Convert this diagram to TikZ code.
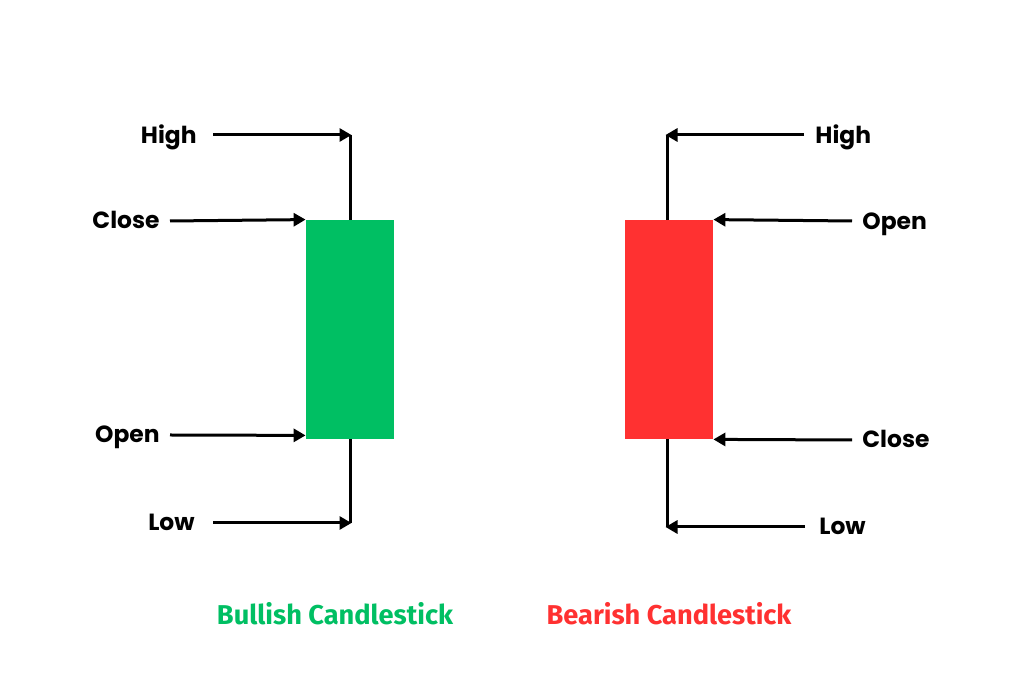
\documentclass[tikz,border=0pt]{standalone}
\usepackage{fontspec}
\setmainfont{Poppins}
\newfontfamily\captionfont{Fira Sans}
\usepackage{xcolor}
\usepackage{tikz}
\usetikzlibrary{arrows.meta}
\usetikzlibrary{positioning}
\definecolor{bullgreen}{HTML}{00BF63}
\definecolor{bearred}{HTML}{FF3131}

\begin{document}
\begin{tikzpicture}[
            x=0.5pt, y=-0.5pt,
            >={Triangle[length=6pt, width=6.5pt]},
            candle/.style={rectangle, minimum width=44pt, minimum height=109.5pt, inner sep=0pt},
            wick/.style={line width=1.5pt},
            pointer/.style={->, line width=1.5pt},
            price/.style={font=\bfseries\fontsize{11.7}{14}\selectfont, inner sep=0pt},
            caption/.style={font=\captionfont\bfseries\fontsize{13.6}{16}\selectfont, inner sep=0pt},
        ]

        % Page frame
        \useasboundingbox[fill=white] (0,0) rectangle (1024,683);

        % Bullish candle (left)
        \node[candle, fill=bullgreen] (bull) at (350, 329.5) {};
        \coordinate (bullHigh) at (350, 135);
        \coordinate (bullLow) at (350, 523);
        \draw[wick] (bullHigh) -- (bull.north);
        \draw[wick] (bull.south) -- (bullLow);

        % Bullish labels and pointers
        \node[price, anchor=base east] (bullHighLabel) at (197, 144) {High};
        \node[price, anchor=base east] (bullCloseLabel) at (160, 229) {Close};
        \node[price, anchor=base east] (bullOpenLabel) at (160, 443) {Open};
        \node[price, anchor=base east] (bullLowLabel) at (195, 531) {Low};

        \coordinate (bullHighTail) at (213, 135);
        \coordinate (bullCloseTail) at (170, 221);
        \coordinate (bullOpenTail) at (170, 435);
        \coordinate (bullLowTail) at (213, 523);

        \draw[pointer] (bullHighTail) -- ([xshift=0.75pt]bullHigh);
        \draw[pointer] (bullCloseTail) -- (bull.north west);
        \draw[pointer] (bullOpenTail) -- ([yshift=2pt]bull.south west);
        \draw[pointer] (bullLowTail) -- ([xshift=0.75pt]bullLow);

        % Bearish candle (right)
        \node[candle, fill=bearred] (bear) at (669, 329.5) {};
        \coordinate (bearHigh) at (667, 135);
        \coordinate (bearLow) at (667, 527);
        \draw[wick] (bearHigh) -- (bear.north -| bearHigh);
        \draw[wick] (bear.south -| bearLow) -- (bearLow);

        % Bearish labels and pointers
        \node[price, anchor=base west] (bearHighLabel) at (815, 144) {High};
        \node[price, anchor=base west] (bearOpenLabel) at (862, 230) {Open};
        \node[price, anchor=base west] (bearCloseLabel) at (862, 448) {Close};
        \node[price, anchor=base west] (bearLowLabel) at (819, 535) {Low};

        \coordinate (bearHighTail) at (804, 135);
        \coordinate (bearOpenTail) at (852, 221);
        \coordinate (bearCloseTail) at (852, 440);
        \coordinate (bearLowTail) at (805, 527);

        \draw[pointer] (bearHighTail) -- ([xshift=-0.75pt]bearHigh);
        \draw[pointer] (bearOpenTail) -- (bear.north east);
        \draw[pointer] (bearCloseTail) -- (bear.south east);
        \draw[pointer] (bearLowTail) -- ([xshift=-0.75pt]bearLow);

        % Captions
        \node[caption, text=bullgreen, anchor=base] (bullCaption) at (335, 625) {Bullish Candlestick};
        \node[caption, text=bearred, anchor=base] (bearCaption) at (669, 625) {Bearish Candlestick};

        \end{tikzpicture}
\end{document}
